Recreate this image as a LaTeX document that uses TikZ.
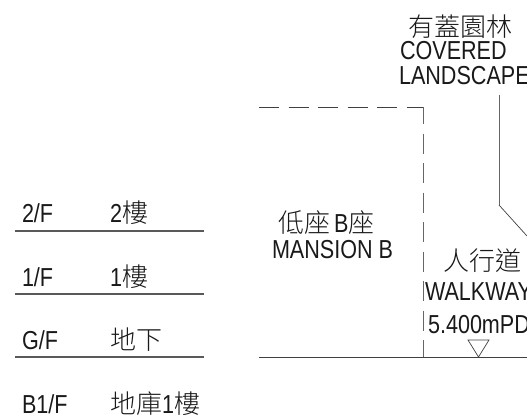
\documentclass[tikz,border=0pt]{standalone}
\usepackage{fontspec}
\setmainfont{Liberation Sans}
\newfontfamily\cjk{Noto Sans CJK TC Light}
\newcommand{\latn}[1]{\scalebox{.83}[1]{\fontsize{26}{26}\selectfont\rmfamily #1}}
\tikzset{
 lat/.style={anchor=base west,inner sep=0pt,outer sep=0pt,text=black!90},
 han/.style={anchor=base west,inner sep=0pt,outer sep=0pt,font=\fontsize{26}{26}\selectfont\cjk,text=black!90},
 floor/.style={draw=black!65,line width=1.1pt},
 wall/.style={draw=black!60,line width=1pt},
 thin/.style={draw=black!75,line width=.8pt}
}
\begin{document}
\begin{tikzpicture}[x=1pt,y=-1pt]
\useasboundingbox (0,0) rectangle (527,417);
\clip (0,0) rectangle (527,417);
% floor table
\node[lat] (f2) at (22,222) {\latn{2/F}};
\node[han] (c2) at (110,222) {\latn{2}樓};
\coordinate (a2) at (15,231); \coordinate (b2) at (204,231);
\draw[floor] (a2) -- (b2);
\node[lat] (f1) at (22,286) {\latn{1/F}};
\node[han] (c1) at (110,286) {\latn{1}樓};
\coordinate (a1) at (15,294); \coordinate (b1) at (204,294);
\draw[floor] (a1) -- (b1);
\node[lat] (fg) at (22,349) {\latn{G/F}};
\node[han] (cg) at (110,349) {地下};
\coordinate (ag) at (15,357); \coordinate (bg) at (204,357);
\draw[floor] (ag) -- (bg);
\node[lat] (fb) at (22,413) {\latn{B1/F}};
\node[han] (cb) at (110,413) {地庫\latn{1}樓};
% mansion outline
\coordinate (tl) at (259,107); \coordinate (tr) at (423,107); \coordinate (br) at (423,357);
\draw[thin,dash pattern=on 20pt off 9.5pt] (tl) -- (tr);
\draw[wall,dash pattern=on 20pt off 9.5pt,dash phase=3pt] (tr) -- (br);
% ground
\coordinate (gl) at (259,357); \coordinate (gr) at (527,357);
\draw[thin] (gl) -- (gr);
% level mark
\coordinate (t1) at (468,340); \coordinate (t2) at (489,340); \coordinate (t3) at (478.5,357);
\draw[draw=black!75,line width=.7pt] (t1) -- (t2) -- (t3) -- cycle;
% leader
\coordinate (l1) at (499,95); \coordinate (l2) at (499,205); \coordinate (l3) at (527,236);
\draw[draw=black!60,line width=1pt] (l1) -- (l2);
\draw[draw=black!75,line width=.7pt] (l2) -- (l3);
% labels
\node[han] (n1) at (408,37) {有蓋園林};
\node[lat] (n2) at (400,60) {\latn{COVERED}};
\node[lat] (n3) at (399,85) {\latn{LANDSCAPE}};
\node[han] (n4) at (278,232) {低座\hspace{4pt}\latn{B}座};
\node[lat] (n5) at (272,258) {\latn{MANSION B}};
\node[han] (n6) at (443,270) {人行道};
\node[lat] (n7) at (425,300) {\latn{WALKWAY}};
\node[lat] (n8) at (428,333) {\latn{5.400mPD}};
\end{tikzpicture}
\end{document}
